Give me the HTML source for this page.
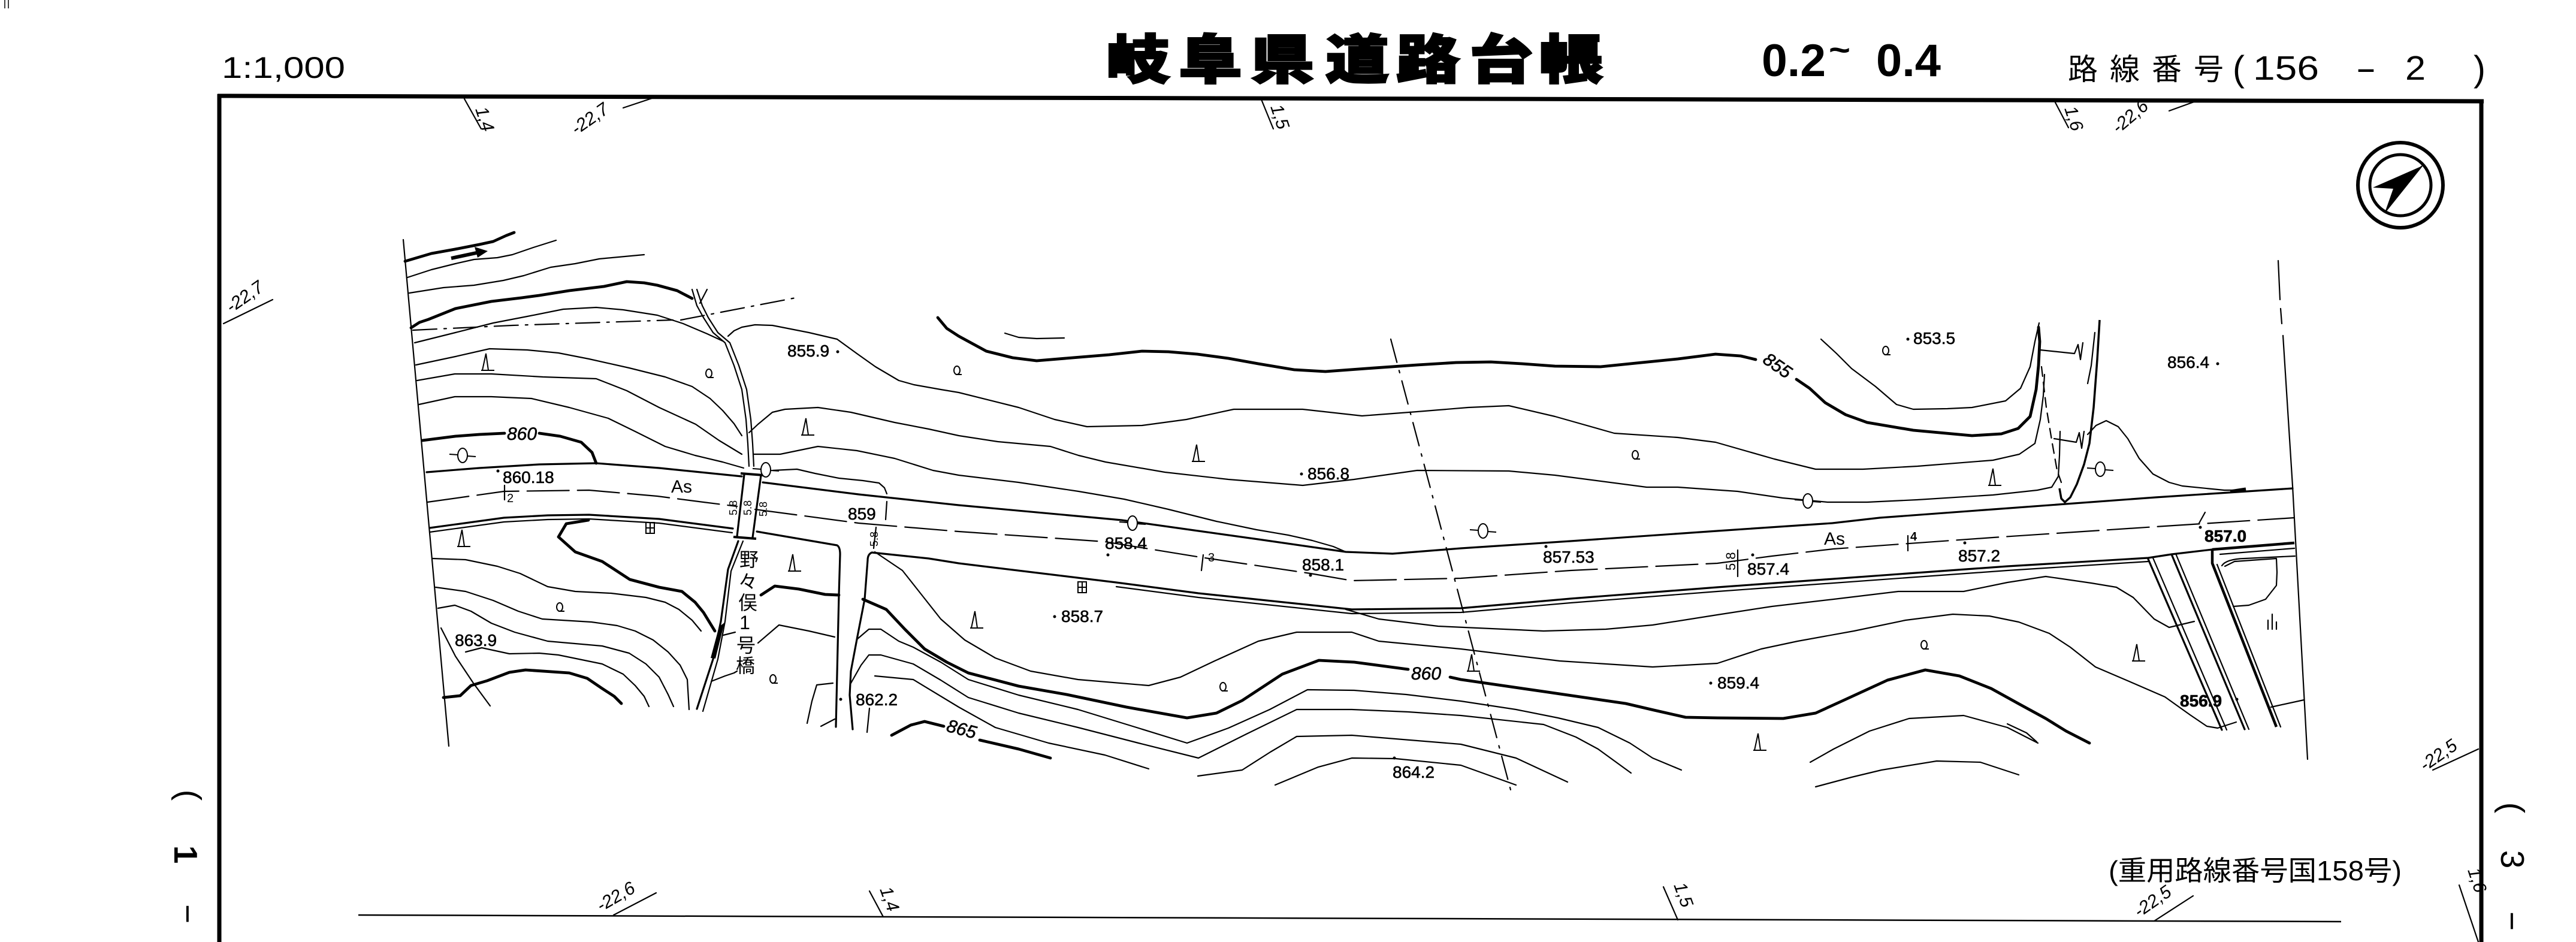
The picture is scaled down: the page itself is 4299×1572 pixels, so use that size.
<!DOCTYPE html>
<html><head><meta charset="utf-8"><title>岐阜県道路台帳</title>
<style>
html,body{margin:0;padding:0;background:#fff;width:4299px;height:1572px;overflow:hidden;}
svg{display:block;}
.t{stroke:#000;stroke-width:2.2;fill:none;stroke-linejoin:round;stroke-linecap:round;}
.k{stroke:#000;stroke-width:4.8;fill:none;stroke-linejoin:round;stroke-linecap:round;}
.m{stroke:#000;stroke-width:3.2;fill:none;stroke-linejoin:round;stroke-linecap:round;}
text{font-family:"Liberation Sans","Noto Sans CJK JP",sans-serif;fill:#000;}
.n{font-size:28px;stroke:#000;stroke-width:0.6;}
.i{font-size:30px;font-style:italic;stroke:#000;stroke-width:0.6;}
.s{font-size:30px;font-style:italic;}
</style></head><body>
<svg width="4299" height="1572" viewBox="0 0 4299 1572" xmlns="http://www.w3.org/2000/svg">
<defs>
<g id="gr"><path d="M-7,0 L-1,-28 L3,0 M-9,0 L13,0" stroke="#000" stroke-width="2" fill="none"/></g>
<g id="q"><ellipse cx="0" cy="-7" rx="5" ry="7" stroke="#000" stroke-width="2" fill="none"/><path d="M-2,0 L8,0" stroke="#000" stroke-width="2"/></g>
<g id="p"><path d="M-22,-2 L-8,-1 M8,1 L22,2" stroke="#000" stroke-width="2"/><ellipse cx="0" cy="0" rx="8" ry="12" stroke="#000" stroke-width="2" fill="#fff"/></g>
<g id="f"><rect x="-7" y="-9" width="14" height="18" stroke="#000" stroke-width="2" fill="none"/><path d="M0,-9 V9 M-7,0 H7" stroke="#000" stroke-width="2"/></g>
</defs>

<!-- corner marks -->
<path d="M8,0 L8,14 M14,0 L14,14" stroke="#000" stroke-width="1.5"/>

<!-- frame -->
<path d="M366,157 L366,1572" stroke="#000" stroke-width="7"/>
<path d="M363,160 L4145,169" stroke="#000" stroke-width="7"/>
<path d="M4141,166 L4141,1572" stroke="#000" stroke-width="7"/>
<path d="M598,1527 L3907,1538" stroke="#000" stroke-width="2.5"/>

<!-- header -->
<text x="370" y="130" font-size="50" textLength="206" lengthAdjust="spacingAndGlyphs">1:1,000</text>
<g font-size="88" font-weight="900" stroke="#000" stroke-width="3" text-anchor="middle">
<text transform="translate(1899,131) scale(1.2,1)">岐</text>
<text transform="translate(2020,131) scale(1.2,1)">阜</text>
<text transform="translate(2140,131) scale(1.2,1)">県</text>
<text transform="translate(2265,131) scale(1.2,1)">道</text>
<text transform="translate(2383,131) scale(1.2,1)">路</text>
<text transform="translate(2505,131) scale(1.2,1)">台</text>
<text transform="translate(2622,131) scale(1.2,1)">帳</text>
</g>
<text x="2940" y="127" font-size="76" font-weight="bold" textLength="107" lengthAdjust="spacingAndGlyphs">0.2</text>
<text x="3052" y="102" font-size="56" font-weight="bold" textLength="36" lengthAdjust="spacingAndGlyphs">~</text>
<text x="3131" y="127" font-size="76" font-weight="bold" textLength="108" lengthAdjust="spacingAndGlyphs">0.4</text>
<g font-size="50" text-anchor="middle">
<text x="3476" y="133">路</text><text x="3546" y="133">線</text><text x="3616" y="133">番</text><text x="3686" y="133">号</text>
</g>
<text x="3726" y="135" font-size="60">(</text>
<text x="3760" y="133" font-size="57" textLength="110" lengthAdjust="spacingAndGlyphs">156</text>
<text x="3931" y="133" font-size="57" textLength="35" lengthAdjust="spacingAndGlyphs">-</text>
<text x="4014" y="133" font-size="57" textLength="34" lengthAdjust="spacingAndGlyphs">2</text>
<text x="4128" y="135" font-size="60">)</text>

<!-- compass -->
<circle cx="4006" cy="309" r="71" stroke="#000" stroke-width="6" fill="none"/>
<circle cx="4006" cy="309" r="51" stroke="#000" stroke-width="5" fill="none"/>
<polygon points="4042,277 3960,313 3995,315" fill="#000"/>
<polygon points="4042,277 3995,315 3982,352" fill="#000" stroke="#000" stroke-width="2"/>

<!-- frame tick labels -->
<g class="t">
<path d="M775,165 L803,215"/>
<path d="M1040,180 L1100,160"/>
<path d="M2105,166 L2125,215"/>
<path d="M3430,171 L3452,213"/>
<path d="M3620,185 L3667,168"/>
<path d="M373,540 L455,500"/>
<path d="M1024,1527 L1095,1490"/>
<path d="M1451,1487 L1474,1530"/>
<path d="M2776,1480 L2800,1535"/>
<path d="M3595,1537 L3660,1495"/>
<path d="M4060,1285 L4136,1250"/>
<path d="M4104,1477 L4136,1572"/>
</g>
<g class="s">
<text transform="translate(793,182) rotate(72)">1,4</text>
<text transform="translate(962,226) rotate(-35)">-22,7</text>
<text transform="translate(2120,178) rotate(72)">1,5</text>
<text transform="translate(3445,181) rotate(72)">1,6</text>
<text transform="translate(3535,224) rotate(-40)">-22,6</text>
<text transform="translate(386,523) rotate(-35)">-22,7</text>
<text transform="translate(1003,1522) rotate(-30)">-22,6</text>
<text transform="translate(1468,1484) rotate(70)">1,4</text>
<text transform="translate(2793,1477) rotate(70)">1,5</text>
<text transform="translate(3570,1532) rotate(-35)">-22,5</text>
<text transform="translate(4047,1288) rotate(-35)">-22,5</text>
<text transform="translate(4118,1452) rotate(72)">1,6</text>
</g>

<!-- side page marks (rotated text) -->
<g font-size="55" text-anchor="middle">
<text transform="translate(312,1327) rotate(90)" dy="0.26em">(</text>
<text transform="translate(311,1426) rotate(90)" dy="0.36em" font-weight="bold">1</text>
<text transform="translate(311,1525) rotate(90)" dy="0.3em">−</text>
<text transform="translate(4189,1348) rotate(90)" dy="0.26em">(</text>
<text transform="translate(4194,1434) rotate(90)" dy="0.36em">3</text>
<text transform="translate(4190,1537) rotate(90)" dy="0.3em">−</text>
</g>

<text x="3519" y="1469" font-size="46" textLength="489" lengthAdjust="spacingAndGlyphs">(重用路線番号国158号)</text>

<!-- map boundaries -->
<path class="t" d="M673,400 L749,1245"/>
<path class="t" d="M3802,435 L3805,500 M3806,515 L3808,540 M3810,560 L3826,811 L3851,1267"/>

<!-- dash-dot lines -->
<path class="t" stroke-dasharray="40 12 4 12" d="M689,551 L855,543 L1123,534 M1136,534 L1333,496"/>
<path class="t" stroke-dasharray="40 14 4 14" d="M2321,566 L2521,1318"/>

<!-- ROAD -->
<path class="m" d="M712,788 L800,781 L900,775 L995,773 L1100,781 L1238,795 M1273,805 L1433,825 L1600,843 L1872,868 L2000,886 L2100,900 L2246,921 L2324,924 L2438,915 L2621,903 L2866,886 L3058,873 L3137,864 L3326,850 L3597,830 L3826,815"/>
<path class="t" stroke-dasharray="70 14" d="M713,838 L841,820 L983,818 L1097,828 L1174,838 L1230,845 M1260,850 L1433,873 L1600,887 L1844,904 L2004,930 L2187,957 L2256,969 L2438,965 L2621,952 L2866,940 L2957,928 L3060,916 L3326,897 L3597,879 L3829,864"/>
<path class="m" d="M717,881 L841,864 L914,860 L983,859 L1100,866 L1223,882"/>
<path class="t" d="M717,888 L841,871 L914,867 L983,866 L1100,873 L1222,889"/>
<path class="m" d="M1263,887 L1397,910 Q1402,913 1402,925 L1400,993 L1395,1213"/>
<path class="m" d="M1423,1217 L1418,1160 L1420,1120 L1430,1067 L1443,1000 L1448,935 Q1448,925 1455,922 L1550,932 L1600,940 L1863,972 L2000,990 L2256,1017 L2438,1015 L2621,999 L2866,980 L3350,945 L3585,931 L3624,925 L3692,917"/>
<path class="t" d="M1863,979 L2000,997 L2256,1024 L2438,1022 L2621,1006 L2866,987 L3350,952 L3585,937"/>

<!-- bridge -->
<path class="m" d="M1242,792 L1230,895 M1270,793 L1256,897"/>
<path d="M1236,790 L1274,793 M1224,896 L1262,899" stroke="#000" stroke-width="4"/>
<use href="#p" x="1278" y="784"/>

<!-- stream above bridge -->
<path class="t" d="M1155,483 L1163,510 L1174,530 L1190,555 L1210,572 L1225,610 L1238,650 L1245,700 L1248,740 L1250,778"/>
<path class="t" d="M1163,483 L1172,510 L1182,530 L1198,555 L1218,572 L1233,610 L1246,650 L1253,700 L1256,740 L1258,778"/>
<path class="t" d="M1180,483 L1168,506"/>
<!-- stream below bridge -->
<path class="m" d="M1232,903 L1215,950 L1203,1037 L1190,1100 L1163,1183"/>
<path class="t" d="M1240,903 L1220,953 L1210,1037 L1198,1100 L1173,1187"/>
<polygon points="1209,1039 1200,1046 1186,1098 1194,1099" fill="#000"/>

<!-- contours: left/top -->
<path class="k" d="M676,436 L720,423 L759,416 L800,408 L823,403 L845,393 L858,388"/>
<path d="M753,431 L795,422" stroke="#000" stroke-width="6"/>
<polygon points="792,412 814,419 797,430" fill="#000"/>
<path class="t" d="M680,463 L720,450 L760,440 L791,433 L830,430 L855,425 L890,413 L928,401"/>
<path class="t" d="M683,489 L740,480 L791,476 L840,468 L874,460 L919,446 L960,440 L1000,432 L1075,425"/>
<path class="k" d="M686,547 L700,538 L715,533 L760,515 L820,503 L870,497 L900,493 L950,485 L1008,478 L1046,470 L1075,472 L1097,476 L1130,485 L1155,498"/>
<path class="t" d="M692,572 L760,555 L823,539 L880,528 L940,516 L995,513 L1040,517 L1097,526 L1140,540 L1180,557 L1206,569"/>
<path class="t" d="M694,609 L760,595 L817,582 L880,584 L932,589 L983,599 L1050,614 L1110,629 L1155,645 L1185,665 L1206,685 L1225,707 L1238,727"/>
<path class="t" d="M1250,722 L1265,708 L1289,688 L1310,683 L1365,680 L1420,688 L1493,705 L1550,716 L1600,727 L1665,737 L1753,745 L1800,760 L1845,771 L1944,788 L2050,800 L2174,810 L2260,800 L2365,785 L2518,786 L2595,793 L2748,813 L2800,813 L2900,820 L2975,831 L3050,838 L3116,838 L3200,834 L3326,826 L3400,818 L3424,813 L3435,795 L3437,760 L3438,720"/>
<path class="t" d="M696,635 L759,624 L820,624 L906,629 L995,632 L1046,652 L1100,680 L1161,708 L1200,735 L1238,758"/>
<path class="t" d="M1257,758 L1302,758 L1365,745 L1430,752 L1493,765 L1557,785 L1600,793 L1700,805 L1800,820 L1876,833 L1950,850 L2030,870 L2097,884 L2150,893 L2190,902 L2225,912 L2246,921"/>
<path class="t" d="M699,675 L759,662 L820,662 L887,665 L950,680 L1015,698 L1060,720 L1110,745 L1160,760 L1206,771 L1241,781"/>
<path class="k" d="M705,735 L760,728 L800,725 L842,723 M900,723 L935,728 L970,738 L988,755 L995,773"/>
<path class="t" d="M1215,561 L1225,552 L1238,546 L1260,542 L1289,543 L1350,555 L1397,566 L1430,590 L1461,612 L1500,635 L1525,642 L1570,650 L1600,655 L1700,680 L1760,700 L1814,712 L1906,710 L1980,700 L2059,683 L2174,683 L2273,694 L2365,687 L2450,680 L2518,677 L2595,695 L2694,723 L2800,730 L2863,738 L2961,766 L3030,783 L3109,783 L3200,778 L3326,768 L3370,758 L3396,740 L3405,700 L3410,660 L3412,625"/>
<path class="t" d="M1290,785 L1330,783 L1360,790 L1400,798 L1440,802 L1467,806 L1476,814 L1480,824"/>
<path class="k" d="M1565,530 L1580,548 L1600,561 L1646,586 L1690,597 L1730,602 L1790,597 L1851,592 L1906,586 L1950,587 L1998,591 L2050,598 L2100,607 L2160,617 L2212,620 L2280,615 L2365,609 L2430,605 L2488,604 L2540,607 L2595,611 L2671,612 L2730,606 L2800,599 L2863,591 L2905,594 L2930,600 M2998,633 L3020,648 L3046,672 L3080,692 L3116,705 L3193,718 L3291,727 L3340,724 L3368,715 L3388,695 L3398,650 L3402,610 L3404,570 L3402,546"/>
<path class="t" d="M1677,556 L1700,563 L1730,565 L1776,564"/>
<path class="t" d="M3039,566 L3065,590 L3090,615 L3130,645 L3165,675 L3193,683 L3250,682 L3291,680 L3347,669 L3372,648 L3388,612 L3396,570 L3403,539"/>

<!-- valley (right) -->
<path d="M3504,534 L3500,600 L3494,680 L3487,740 L3478,775 L3466,808 L3455,830 L3446,838 L3440,832 L3437,815" stroke="#000" stroke-width="3.5" fill="none" stroke-linejoin="round"/>
<path class="t" stroke-dasharray="16 10" d="M3407,612 L3415,680 L3425,740 L3433,785 L3440,805"/>
<path class="t" d="M3496,555 L3490,610 L3484,640"/>
<path class="t" d="M3405,584 L3462,590 L3468,575 L3472,600 L3476,572 M3428,732 L3465,738 L3470,722 L3474,748 L3478,720"/>
<path class="t" d="M3484,725 L3498,710 L3515,702 L3535,712 L3551,732 L3570,765 L3593,791 L3620,805 L3642,811 L3712,818 L3735,818"/>
<path d="M3722,820 L3748,816" stroke="#000" stroke-width="5"/>

<!-- contours below road -->
<path class="t" d="M1460,921 L1506,952 L1540,995 L1570,1033 L1610,1068 L1661,1098 L1720,1120 L1799,1134 L1917,1144 L1970,1130 L2027,1103 L2100,1070 L2164,1055 L2256,1055 L2301,1070 L2438,1083 L2603,1103 L2758,1113 L2866,1107 L2939,1083 L3000,1070 L3094,1053 L3180,1035 L3259,1025 L3320,1028 L3369,1038 L3420,1057 L3455,1080 L3497,1113 L3560,1140 L3613,1163 L3655,1193 L3683,1212 L3701,1215 L3732,1205"/>
<path class="t" d="M2246,1017 L2301,1033 L2400,1045 L2576,1053 L2680,1050 L2758,1043 L2866,1026 L2957,1012 L3060,1000 L3168,987 L3277,987 L3350,972 L3414,962 L3490,973 L3532,980 L3560,997 L3595,1033 L3620,1047 L3662,1037"/>
<path class="k" d="M1440,1000 L1479,1017 L1510,1050 L1543,1083 L1580,1105 L1616,1123 L1700,1145 L1780,1159 L1880,1180 L1981,1198 L2030,1190 L2073,1169 L2140,1125 L2201,1102 L2260,1105 L2350,1117 M2420,1130 L2438,1134 L2576,1154 L2713,1174 L2760,1185 L2813,1197 L2866,1198 L2976,1199 L3030,1190 L3076,1169 L3150,1135 L3213,1118 L3270,1128 L3323,1149 L3370,1175 L3414,1199 L3448,1220 L3487,1240"/>
<path class="k" d="M982,868 L945,874 L932,896 L960,921 L1005,937 L1051,967 L1100,980 L1138,987 L1160,1005 L1174,1022 L1193,1053"/>
<path class="k" d="M1270,993 L1293,978 L1333,983 L1377,992 L1400,993"/>
<path class="t" d="M1430,1067 L1450,1050 L1470,1050 L1500,1070 L1524,1080 L1570,1105 L1616,1134 L1700,1160 L1799,1184 L1900,1215 L1981,1240 L2050,1215 L2119,1184 L2182,1151 L2260,1152 L2347,1159 L2438,1170 L2530,1184 L2600,1198 L2667,1214 L2720,1240 L2758,1265 L2806,1285"/>
<path class="t" d="M1420,1140 L1437,1110 L1450,1093 L1470,1093 L1524,1108 L1570,1135 L1616,1164 L1700,1190 L1799,1214 L1900,1240 L2000,1265 L2080,1225 L2164,1184 L2256,1184 L2350,1188 L2438,1194 L2576,1209 L2630,1230 L2667,1250 L2722,1290"/>
<path class="t" d="M1460,1128 L1524,1134 L1600,1180 L1661,1214 L1750,1240 L1844,1260 L1917,1283"/>
<path class="t" d="M1999,1295 L2073,1285 L2120,1255 L2164,1229 L2256,1227 L2438,1242 L2530,1265 L2616,1305"/>
<path class="t" d="M2128,1310 L2200,1280 L2256,1265 L2329,1266 L2438,1277 L2530,1310"/>
<path class="k" d="M1488,1227 L1520,1210 L1543,1204 L1575,1212 M1635,1235 L1700,1250 L1753,1265"/>
<path class="t" d="M1451,1182 L1447,1222"/>
<path class="t" d="M3021,1272 L3060,1250 L3120,1220 L3186,1199 L3277,1194 L3350,1214 L3401,1240"/>
<path class="t" d="M3030,1313 L3090,1297 L3140,1285 L3232,1270 L3305,1272 L3369,1293"/>
<path class="t" d="M3350,1208 L3382,1223 L3399,1238"/>

<!-- lower-left contours -->
<path class="t" d="M722,932 L777,934 L830,945 L868,957 L914,979 L960,987 L1020,990 L1078,997 L1110,1005 L1133,1017 L1155,1035 L1170,1053"/>
<path class="t" d="M727,980 L777,987 L823,1002 L865,1020 L905,1033 L987,1038 L1030,1044 L1060,1053 L1090,1068 L1115,1088 L1135,1110 L1147,1134 L1150,1184"/>
<path class="t" d="M731,1015 L759,1010 L786,1020 L820,1040 L859,1055 L914,1070 L1005,1078 L1050,1090 L1078,1108 L1100,1130 L1115,1159 L1124,1179"/>
<path class="k" d="M740,1164 L768,1161 L786,1144 L813,1136 L850,1122 L877,1118 L950,1123 L980,1132 L1005,1149 L1025,1162 L1037,1174"/>
<path class="t" d="M777,1088 L804,1081 L850,1091 L900,1090 L932,1093 L1005,1108 L1040,1125 L1060,1144 L1075,1162 L1083,1179"/>
<path class="t" d="M736,1048 L760,1095 L790,1140 L818,1178"/>
<path class="t" d="M1187,1137 L1210,1128 L1225,1123 L1230,1120"/>
<path class="t" d="M1207,1060 L1227,1055"/>
<path class="t" d="M1265,1073 L1300,1043 L1350,1053 L1393,1063"/>
<path class="t" d="M1347,1207 L1355,1170 L1363,1143 L1390,1140"/>
<path class="t" d="M1370,1212 L1393,1200"/>

<!-- right-end side roads -->
<path class="m" d="M3585,933 L3708,1218"/>
<path class="t" d="M3593,931 L3716,1218"/>
<path class="m" d="M3624,925 L3746,1217"/>
<path class="t" d="M3631,924 L3753,1217"/>
<path d="M3692,917 L3829,906 M3692,917 L3692,940 L3799,1213" stroke="#000" stroke-width="4.5" fill="none" stroke-linejoin="round"/>
<path class="t" d="M3700,942 L3806,1213"/>
<path class="t" d="M3705,925 L3829,915"/>
<path class="t" d="M3708,944 Q3715,933 3746,932 L3830,928"/>
<path class="t" d="M3713,945 L3729,937 L3799,932 L3800,955 L3799,977 L3781,1000 L3753,1010 L3727,1012"/>
<path class="t" d="M3790,1180 L3845,1168"/>
<path class="t" d="M3785,1050 L3785,1035 M3792,1050 L3792,1025 M3799,1050 L3799,1038"/>
<path class="t" d="M3670,873 L3680,855"/>

<!-- station ticks -->
<path class="t" d="M842,810 L842,834 M2008,926 L2005,952 M3184,894 L3184,919 M1478,867 L1480,837 M1458,915 L1462,880 M2900,918 L2900,962"/>

<!-- symbols -->
<use href="#gr" x="812" y="618"/>
<use href="#gr" x="1346" y="726"/>
<use href="#gr" x="772" y="912"/>
<use href="#gr" x="1324" y="953"/>
<use href="#gr" x="1628" y="1048"/>
<use href="#gr" x="2457" y="1120"/>
<use href="#gr" x="1998" y="770"/>
<use href="#gr" x="3327" y="810"/>
<use href="#gr" x="3567" y="1103"/>
<use href="#gr" x="2935" y="1252"/>
<use href="#q" x="1183" y="630"/>
<use href="#q" x="1597" y="625"/>
<use href="#q" x="934" y="1020"/>
<use href="#q" x="1290" y="1140"/>
<use href="#q" x="2041" y="1153"/>
<use href="#q" x="2729" y="766"/>
<use href="#q" x="3147" y="592"/>
<use href="#q" x="3211" y="1083"/>
<use href="#p" x="772" y="760"/>
<use href="#p" x="1890" y="873"/>
<use href="#p" x="2475" y="886"/>
<use href="#p" x="3017" y="836"/>
<use href="#p" x="3505" y="783"/>
<use href="#f" x="1085" y="881"/>
<use href="#f" x="1806" y="980"/>

<!-- spot height dots -->
<g fill="#000">
<circle cx="1398" cy="587" r="2.5"/><circle cx="831" cy="786" r="2.5"/><circle cx="1849" cy="926" r="2.5"/>
<circle cx="2187" cy="960" r="2.5"/><circle cx="2580" cy="912" r="2.5"/><circle cx="1760" cy="1029" r="2.5"/>
<circle cx="1403" cy="1167" r="2.5"/><circle cx="2327" cy="1265" r="2.5"/><circle cx="2172" cy="791" r="2.5"/>
<circle cx="3184" cy="566" r="2.5"/><circle cx="3701" cy="607" r="2.5"/><circle cx="2925" cy="926" r="2.5"/>
<circle cx="3279" cy="906" r="2.5"/><circle cx="2855" cy="1140" r="2.5"/><circle cx="3672" cy="880" r="2.5"/>
<circle cx="3733" cy="1167" r="2.5"/>
</g>

<!-- labels -->
<g class="n">
<text x="1314" y="595">855.9</text>
<text x="839" y="806">860.18</text>
<text x="1415" y="867">859</text>
<text x="1844" y="916">858.4</text>
<text x="2173" y="952">858.1</text>
<text x="2575" y="939">857.53</text>
<text x="1771" y="1038">858.7</text>
<text x="1428" y="1177">862.2</text>
<text x="2324" y="1298">864.2</text>
<text x="2182" y="800">856.8</text>
<text x="3193" y="574">853.5</text>
<text x="3617" y="614">856.4</text>
<text x="2916" y="959">857.4</text>
<text x="3268" y="937">857.2</text>
<text x="3679" y="904" font-weight="bold">857.0</text>
<text x="2866" y="1149">859.4</text>
<text x="3638" y="1179" font-weight="bold">856.9</text>
<text x="759" y="1078">863.9</text>
</g>
<text x="1120" y="822" font-size="30">As</text>
<text x="3044" y="909" font-size="30">As</text>
<text x="846" y="838" font-size="20">2</text>
<text x="2016" y="937" font-size="20">3</text>
<text x="3188" y="902" font-size="20" font-weight="bold">4</text>
<text x="846" y="734" class="i">860</text>
<text x="2355" y="1134" class="i">860</text>
<text transform="translate(2940,604) rotate(35)" class="i">855</text>
<text transform="translate(1578,1220) rotate(15)" class="i">865</text>

<!-- rotated 5.8 labels -->
<g font-size="18">
<text transform="translate(1230,860) rotate(-90)">5.8</text>
<text transform="translate(1254,860) rotate(-90)">5.8</text>
<text transform="translate(1280,862) rotate(-90)">5.8</text>
<text transform="translate(1465,912) rotate(-90)">5.8</text>
<text transform="translate(2896,952) rotate(-90)" font-size="22">5.8</text>
</g>

<!-- bridge name (vertical) -->
<g font-size="32" text-anchor="middle">
<text x="1250" y="945">野</text>
<text x="1248" y="982">々</text>
<text x="1248" y="1017">俣</text>
<text x="1243" y="1050">1</text>
<text x="1245" y="1088">号</text>
<text x="1244" y="1122">橋</text>
</g>

</svg>
</body></html>
